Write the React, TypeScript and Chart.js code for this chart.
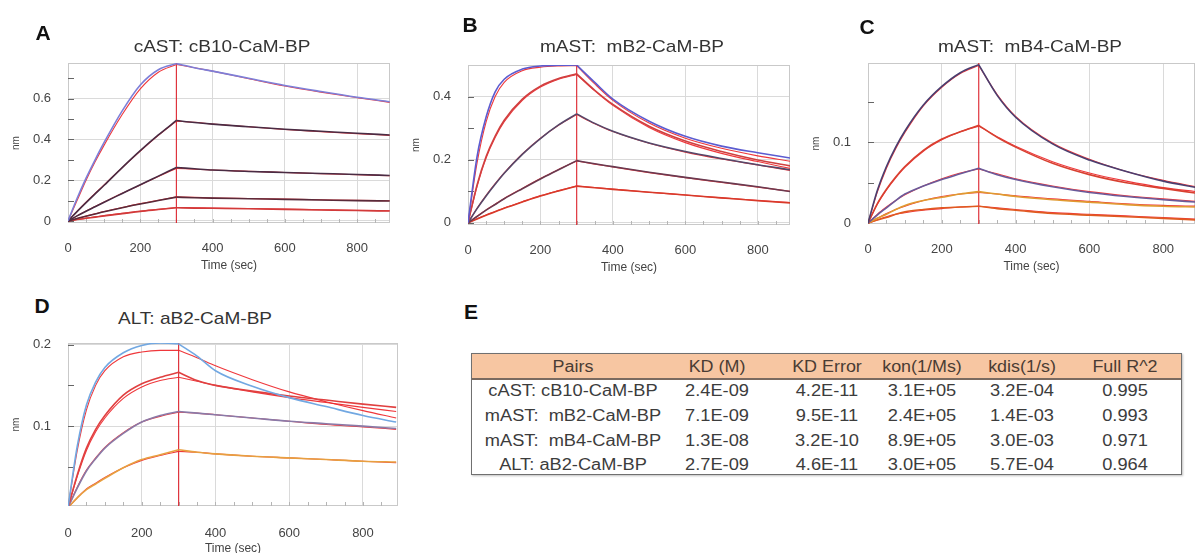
import React, { useEffect, useRef } from "react";
import { Chart, registerables } from "chart.js";
Chart.register(...registerables);

// ---------- data ----------
const TIME = [0, 25, 50, 75, 100, 150, 200, 250, 300, 350, 400, 500, 600, 700, 800, 890];
const DISSOC_START = 300;
const X_TICK_STEP = 200;

// Panel A: cAST: cB10-CaM-BP
const A_DATA_1 = [0, 0.11, 0.21, 0.30, 0.385, 0.54, 0.667, 0.742, 0.772, 0.752, 0.735, 0.700, 0.665, 0.635, 0.607, 0.585];
const A_FIT_1 = [0, 0.10, 0.20, 0.29, 0.372, 0.522, 0.648, 0.73, 0.768, 0.752, 0.735, 0.698, 0.662, 0.632, 0.605, 0.582];
const A_DATA_2 = [0, 0.046, 0.09, 0.133, 0.175, 0.262, 0.345, 0.422, 0.493, 0.483, 0.475, 0.462, 0.45, 0.44, 0.43, 0.422];
const A_FIT_2 = [0, 0.047, 0.092, 0.135, 0.177, 0.262, 0.343, 0.42, 0.49, 0.484, 0.476, 0.462, 0.449, 0.438, 0.428, 0.42];
const A_DATA_3 = [0, 0.025, 0.048, 0.07, 0.092, 0.135, 0.178, 0.22, 0.262, 0.256, 0.25, 0.243, 0.238, 0.233, 0.228, 0.223];
const A_FIT_3 = [0, 0.025, 0.049, 0.071, 0.093, 0.136, 0.177, 0.218, 0.258, 0.254, 0.25, 0.244, 0.238, 0.232, 0.227, 0.222];
const A_DATA_4 = [0, 0.012, 0.023, 0.034, 0.045, 0.065, 0.083, 0.1, 0.117, 0.114, 0.112, 0.109, 0.106, 0.103, 0.1, 0.098];
const A_FIT_4 = [0, 0.012, 0.024, 0.035, 0.046, 0.066, 0.085, 0.102, 0.118, 0.116, 0.113, 0.11, 0.107, 0.104, 0.101, 0.099];
const A_DATA_5 = [0, 0.007, 0.013, 0.019, 0.025, 0.036, 0.047, 0.056, 0.065, 0.063, 0.062, 0.06, 0.057, 0.054, 0.051, 0.049];
const A_FIT_5 = [0, 0.007, 0.014, 0.02, 0.026, 0.037, 0.048, 0.057, 0.066, 0.065, 0.063, 0.061, 0.058, 0.055, 0.052, 0.05];

// Panel B: mAST: mB2-CaM-BP
const B_DATA_1 = [0, 0.21, 0.335, 0.415, 0.455, 0.487, 0.497, 0.499, 0.5, 0.445, 0.392, 0.322, 0.274, 0.243, 0.222, 0.205];
const B_FIT_1 = [0, 0.19, 0.32, 0.40, 0.445, 0.482, 0.493, 0.497, 0.498, 0.44, 0.388, 0.316, 0.268, 0.236, 0.212, 0.195];
const B_DATA_2 = [0, 0.12, 0.21, 0.275, 0.325, 0.392, 0.433, 0.457, 0.472, 0.42, 0.375, 0.306, 0.259, 0.226, 0.199, 0.18];
const B_FIT_2 = [0, 0.115, 0.205, 0.27, 0.32, 0.388, 0.43, 0.455, 0.47, 0.418, 0.372, 0.302, 0.254, 0.22, 0.194, 0.172];
const B_DATA_3 = [0, 0.045, 0.085, 0.122, 0.157, 0.217, 0.267, 0.31, 0.345, 0.315, 0.29, 0.253, 0.226, 0.204, 0.184, 0.168];
const B_FIT_3 = [0, 0.046, 0.087, 0.124, 0.158, 0.218, 0.268, 0.309, 0.343, 0.314, 0.289, 0.252, 0.224, 0.202, 0.183, 0.166];
const B_DATA_4 = [0, 0.02, 0.04, 0.058, 0.076, 0.108, 0.139, 0.168, 0.197, 0.187, 0.178, 0.16, 0.144, 0.129, 0.114, 0.099];
const B_FIT_4 = [0, 0.021, 0.041, 0.059, 0.077, 0.109, 0.14, 0.169, 0.196, 0.186, 0.177, 0.159, 0.143, 0.128, 0.113, 0.1];
const B_DATA_5 = [0, 0.012, 0.024, 0.035, 0.046, 0.066, 0.085, 0.101, 0.116, 0.111, 0.106, 0.097, 0.088, 0.079, 0.07, 0.063];
const B_FIT_5 = [0, 0.013, 0.025, 0.036, 0.047, 0.067, 0.086, 0.102, 0.117, 0.112, 0.107, 0.097, 0.088, 0.079, 0.071, 0.064];

// Panel C: mAST: mB4-CaM-BP
const C_DATA_1 = [0, 0.04, 0.07, 0.094, 0.114, 0.146, 0.169, 0.186, 0.196, 0.158, 0.131, 0.098, 0.078, 0.064, 0.052, 0.044];
const C_FIT_1 = [0, 0.038, 0.068, 0.092, 0.112, 0.145, 0.168, 0.185, 0.195, 0.159, 0.132, 0.099, 0.079, 0.064, 0.053, 0.045];
const C_DATA_2 = [0, 0.024, 0.042, 0.057, 0.07, 0.09, 0.104, 0.113, 0.121, 0.106, 0.094, 0.074, 0.06, 0.05, 0.043, 0.037];
const C_FIT_2 = [0, 0.023, 0.041, 0.056, 0.069, 0.089, 0.103, 0.113, 0.12, 0.107, 0.095, 0.076, 0.062, 0.052, 0.044, 0.039];
const C_DATA_3 = [0, 0.01, 0.019, 0.028, 0.036, 0.046, 0.054, 0.061, 0.068, 0.06, 0.054, 0.045, 0.038, 0.033, 0.029, 0.026];
const C_FIT_3 = [0, 0.011, 0.02, 0.028, 0.035, 0.046, 0.055, 0.062, 0.067, 0.061, 0.055, 0.046, 0.039, 0.034, 0.03, 0.027];
const C_DATA_4 = [0, 0.006, 0.011, 0.017, 0.022, 0.028, 0.032, 0.036, 0.039, 0.036, 0.033, 0.029, 0.026, 0.023, 0.021, 0.02];
const C_FIT_4 = [0, 0.006, 0.012, 0.017, 0.021, 0.028, 0.033, 0.036, 0.038, 0.036, 0.034, 0.03, 0.027, 0.024, 0.022, 0.021];
const C_DATA_5 = [0, 0.004, 0.007, 0.011, 0.014, 0.017, 0.019, 0.02, 0.021, 0.018, 0.016, 0.012, 0.01, 0.008, 0.006, 0.004];
const C_FIT_5 = [0, 0.004, 0.008, 0.011, 0.013, 0.016, 0.018, 0.02, 0.021, 0.019, 0.017, 0.013, 0.011, 0.009, 0.007, 0.005];

// Panel D: ALT: aB2-CaM-BP
const D_DATA_1 = [0, 0.075, 0.126, 0.154, 0.172, 0.19, 0.199, 0.202, 0.201, 0.186, 0.168, 0.149, 0.135, 0.124, 0.113, 0.105];
const D_FIT_1 = [0, 0.07, 0.12, 0.15, 0.168, 0.185, 0.191, 0.193, 0.193, 0.184, 0.174, 0.157, 0.142, 0.13, 0.119, 0.11];
const D_DATA_2 = [0, 0.04, 0.073, 0.096, 0.113, 0.138, 0.152, 0.16, 0.166, 0.156, 0.15, 0.143, 0.137, 0.132, 0.127, 0.123];
const D_FIT_2 = [0, 0.038, 0.07, 0.093, 0.11, 0.134, 0.148, 0.156, 0.16, 0.155, 0.15, 0.142, 0.135, 0.129, 0.123, 0.118];
const D_DATA_3 = [0, 0.024, 0.045, 0.06, 0.073, 0.091, 0.105, 0.113, 0.118, 0.116, 0.114, 0.11, 0.106, 0.103, 0.1, 0.097];
const D_FIT_3 = [0, 0.025, 0.046, 0.061, 0.074, 0.092, 0.105, 0.112, 0.117, 0.116, 0.114, 0.11, 0.106, 0.102, 0.099, 0.096];
const D_DATA_4 = [0, 0.012, 0.022, 0.029, 0.036, 0.049, 0.059, 0.065, 0.071, 0.068, 0.066, 0.063, 0.061, 0.059, 0.057, 0.056];
const D_FIT_4 = [0, 0.012, 0.023, 0.03, 0.037, 0.049, 0.058, 0.064, 0.069, 0.068, 0.066, 0.063, 0.061, 0.059, 0.057, 0.055];

// Table E
const TABLE_HEADERS = ["Pairs", "KD (M)", "KD Error", "kon(1/Ms)", "kdis(1/s)", "Full R^2"];
const PAIRS = ["cAST: cB10-CaM-BP", "mAST:  mB2-CaM-BP", "mAST:  mB4-CaM-BP", "ALT: aB2-CaM-BP"];
const KD = ["2.4E-09", "7.1E-09", "1.3E-08", "2.7E-09"];
const KD_ERROR = ["4.2E-11", "9.5E-11", "3.2E-10", "4.6E-11"];
const KON = ["3.1E+05", "2.4E+05", "8.9E+05", "3.0E+05"];
const KDIS = ["3.2E-04", "1.4E-03", "3.0E-03", "5.7E-04"];
const R2 = ["0.995", "0.993", "0.971", "0.964"];

// ---------- styling / layout ----------
const FIT_COLOR = "rgba(238,38,42,0.92)";
const FONT = '"Liberation Sans", Arial, sans-serif';

type Curve = { data: number[]; fit: number[]; color: string };
type Panel = {
  letter: string; title: string; left: number; top: number; width: number; height: number;
  xMax: number; yMin: number; yMax: number; yStep: number; minorStep: number; xPad: number;
  titleX: number; titleY: number; letterX: number; letterY: number; curves: Curve[];
};

const PANELS: Panel[] = [
  {
    letter: "A", title: "cAST: cB10-CaM-BP", left: 10, top: 53, width: 380, height: 220,
    xMax: 891, yMin: -0.01, yMax: 0.775, yStep: 0.2, minorStep: 0.1, xPad: 18,
    titleX: 222, titleY: 46, letterX: 43, letterY: 32,
    curves: [
      { data: A_DATA_1, fit: A_FIT_1, color: "#7d7fd8" },
      { data: A_DATA_2, fit: A_FIT_2, color: "#4a2c44" },
      { data: A_DATA_3, fit: A_FIT_3, color: "#4a2c44" },
      { data: A_DATA_4, fit: A_FIT_4, color: "#5a2a3a" },
      { data: A_DATA_5, fit: A_FIT_5, color: "#d23a3a" },
    ],
  },
  {
    letter: "B", title: "mAST:  mB2-CaM-BP", left: 410, top: 55, width: 380, height: 220,
    xMax: 889, yMin: -0.007, yMax: 0.5, yStep: 0.2, minorStep: 0.1, xPad: 18,
    titleX: 632, titleY: 46, letterX: 470, letterY: 24,
    curves: [
      { data: B_DATA_1, fit: B_FIT_1, color: "#5c5cd0" },
      { data: B_DATA_2, fit: B_FIT_2, color: "#d04040" },
      { data: B_DATA_3, fit: B_FIT_3, color: "#55486a" },
      { data: B_DATA_4, fit: B_FIT_4, color: "#6a3a50" },
      { data: B_DATA_5, fit: B_FIT_5, color: "#d83a2a" },
    ],
  },
  {
    letter: "C", title: "mAST:  mB4-CaM-BP", left: 810, top: 53, width: 385, height: 221,
    xMax: 886, yMin: -0.001, yMax: 0.198, yStep: 0.1, minorStep: 0.05, xPad: 18,
    titleX: 1030, titleY: 46, letterX: 867, letterY: 26,
    curves: [
      { data: C_DATA_1, fit: C_FIT_1, color: "#4a3f70" },
      { data: C_DATA_2, fit: C_FIT_2, color: "#d84030" },
      { data: C_DATA_3, fit: C_FIT_3, color: "#6a5a9a" },
      { data: C_DATA_4, fit: C_FIT_4, color: "#e09a30" },
      { data: C_DATA_5, fit: C_FIT_5, color: "#e05a20" },
    ],
  },
  {
    letter: "D", title: "ALT: aB2-CaM-BP", left: 10, top: 333, width: 388, height: 223,
    xMax: 895, yMin: 0.002, yMax: 0.202, yStep: 0.1, minorStep: 0.05, xPad: 20,
    titleX: 195, titleY: 318, letterX: 42, letterY: 305,
    curves: [
      { data: D_DATA_1, fit: D_FIT_1, color: "#72a8e2" },
      { data: D_DATA_2, fit: D_FIT_2, color: "#e04040" },
      { data: D_DATA_3, fit: D_FIT_3, color: "#8a7aa8" },
      { data: D_DATA_4, fit: D_FIT_4, color: "#e8a040" },
    ],
  },
];

const TABLE_BOX = { left: 471, top: 353, width: 711, height: 122, headerH: 26 };
const COL_X = [573, 717, 827, 922, 1022, 1125];
const HEADER_Y = 367;
const ROW_Y = [391, 416, 441, 465];

// ---------- helpers ----------
const splitIdx = TIME.indexOf(DISSOC_START);

function curveDatasets(values: number[], color: string, width: number) {
  const pts = TIME.map((t, i) => ({ x: t, y: values[i] }));
  const base = {
    borderColor: color, borderWidth: width, pointRadius: 0, fill: false,
    cubicInterpolationMode: "monotone" as const,
  };
  return [
    { ...base, data: pts.slice(0, splitIdx + 1) },
    { ...base, data: pts.slice(splitIdx) },
  ];
}

const framePlugin = {
  id: "frameMinor",
  beforeDatasetsDraw(chart: any, _args: any, opts: any) {
    const { ctx, chartArea: a, scales } = chart;
    ctx.save();
    ctx.strokeStyle = "#c9c9c9";
    ctx.lineWidth = 1;
    ctx.strokeRect(a.left + 0.5, a.top + 0.5, a.right - a.left - 1, a.bottom - a.top - 1);
    const step = opts.minorStep;
    ctx.strokeStyle = "#666";
    const ys = scales.y;
    for (let k = Math.ceil(ys.min / step - 1e-9); k * step <= ys.max + 1e-9; k++) {
      const py = Math.round(ys.getPixelForValue(k * step)) + 0.5;
      if (py < a.top + 2 || py > a.bottom - 1) continue;
      ctx.beginPath();
      ctx.moveTo(a.left, py);
      ctx.lineTo(a.left + 6, py);
      ctx.stroke();
    }
    ctx.strokeStyle = "#b5b5b5";
    const xs = scales.x;
    for (let v = 50; v < xs.max; v += 50) {
      const px = Math.round(xs.getPixelForValue(v)) + 0.5;
      ctx.beginPath();
      ctx.moveTo(px, a.bottom);
      ctx.lineTo(px, a.bottom - 4);
      ctx.stroke();
    }
    ctx.restore();
  },
};

const fmt = (v: number) => String(Number(v.toFixed(3)));
// ticks at whole multiples of the step, kept inside [min, max]
const multipleTicks = (step: number) => (s: any) => {
  const out: any[] = [];
  for (let k = Math.ceil(s.min / step - 1e-9); k * step <= s.max + 1e-9; k++) {
    out.push({ value: Number((k * step).toFixed(6)) });
  }
  s.ticks = out;
};

function KineticsChart({ p }: { p: Panel }) {
  const ref = useRef<HTMLCanvasElement>(null);
  useEffect(() => {
    if (!ref.current) return;
    const datasets: any[] = [];
    p.curves.forEach((c) => datasets.push(...curveDatasets(c.data, c.color, 1.6)));
    p.curves.forEach((c) => datasets.push(...curveDatasets(c.fit, FIT_COLOR, 1.1)));
    datasets.push({
      data: [{ x: DISSOC_START, y: p.yMin }, { x: DISSOC_START, y: p.yMax }],
      borderColor: "rgba(220,30,40,0.9)", borderWidth: 1.2, pointRadius: 0,
    });
    const tickFont = { family: FONT, size: 13 };
    const chart = new Chart(ref.current, {
      type: "line",
      data: { datasets },
      plugins: [framePlugin],
      options: {
        animation: false,
        responsive: true,
        maintainAspectRatio: false,
        layout: { padding: { top: 10, right: 0, bottom: 0, left: 0 } },
        plugins: {
          legend: { display: false },
          tooltip: { enabled: false },
          title: { display: false },
          frameMinor: { minorStep: p.minorStep },
        } as any,
        scales: {
          x: {
            type: "linear",
            min: 0,
            max: p.xMax,
            ticks: { padding: 0, font: tickFont, color: "#444", maxRotation: 0, autoSkip: false, callback: (v: any) => fmt(Number(v)) },
            grid: { color: "#dadada", drawTicks: true, tickLength: p.xPad, tickColor: "rgba(0,0,0,0)" },
            border: { display: false },
            title: { display: true, text: "Time (sec)", padding: 0, font: { family: FONT, size: 12 }, color: "#444" },
            afterBuildTicks: multipleTicks(X_TICK_STEP),
            afterFit: (s: any) => { s.height = 50; },
          },
          y: {
            type: "linear",
            min: p.yMin,
            max: p.yMax,
            ticks: { padding: 0, font: tickFont, color: "#444", callback: (v: any) => fmt(Number(v)) },
            grid: { color: "#dadada", drawTicks: true, tickLength: 17, tickColor: "rgba(0,0,0,0)" },
            border: { display: false },
            title: { display: true, text: "nm", padding: 0, font: { family: FONT, size: 10 }, color: "#444" },
            afterBuildTicks: multipleTicks(p.yStep),
            afterFit: (s: any) => { s.width = 58; },
          },
        },
      } as any,
    });
    return () => chart.destroy();
  }, [p]);
  return (
    <div style={{ position: "absolute", left: p.left, top: p.top, width: p.width, height: p.height }}>
      <canvas ref={ref} />
    </div>
  );
}

function Txt({ x, y, text, size, color, bold, sx }: { x: number; y: number; text: string; size: number; color: string; bold?: boolean; sx?: number }) {
  return (
    <div
      style={{
        position: "absolute", left: x, top: y, transform: `translate(-50%, -50%) scaleX(${sx ?? 1})`,
        whiteSpace: "pre", fontSize: size, fontWeight: bold ? 700 : 400, color, lineHeight: 1, fontFamily: FONT,
      }}
    >
      {text}
    </div>
  );
}

export default function App() {
  const columns = [PAIRS, KD, KD_ERROR, KON, KDIS, R2];
  return (
    <div style={{ position: "fixed", left: 0, top: 0, width: 1195, height: 553, overflow: "hidden", background: "#fff", fontFamily: FONT }}>
      {PANELS.map((p) => (
        <React.Fragment key={p.letter}>
          <KineticsChart p={p} />
          <Txt x={p.titleX} y={p.titleY} text={p.title} size={17} color="#333" sx={1.12} />
          <Txt x={p.letterX} y={p.letterY} text={p.letter} size={21} color="#111" bold />
        </React.Fragment>
      ))}
      <Txt x={471} y={311} text="E" size={21} color="#111" bold />
      <div
        style={{
          position: "absolute", left: TABLE_BOX.left, top: TABLE_BOX.top, width: TABLE_BOX.width, height: TABLE_BOX.height,
          border: "1.5px solid #707070", boxSizing: "border-box", boxShadow: "1px 1px 2px rgba(0,0,0,0.25)",
        }}
      >
        <div style={{ height: TABLE_BOX.headerH, background: "#f7c6a2", borderBottom: "2px solid #7a6a60", boxSizing: "border-box" }} />
      </div>
      {TABLE_HEADERS.map((h, i) => (
        <Txt key={h} x={COL_X[i]} y={HEADER_Y} text={h} size={16} color="#4a3c34" sx={1.12} />
      ))}
      {columns.map((col, ci) =>
        col.map((v, ri) => <Txt key={`${ci}-${ri}`} x={COL_X[ci]} y={ROW_Y[ri]} text={v} size={16} color="#3c3c3c" sx={1.14} />)
      )}
    </div>
  );
}
